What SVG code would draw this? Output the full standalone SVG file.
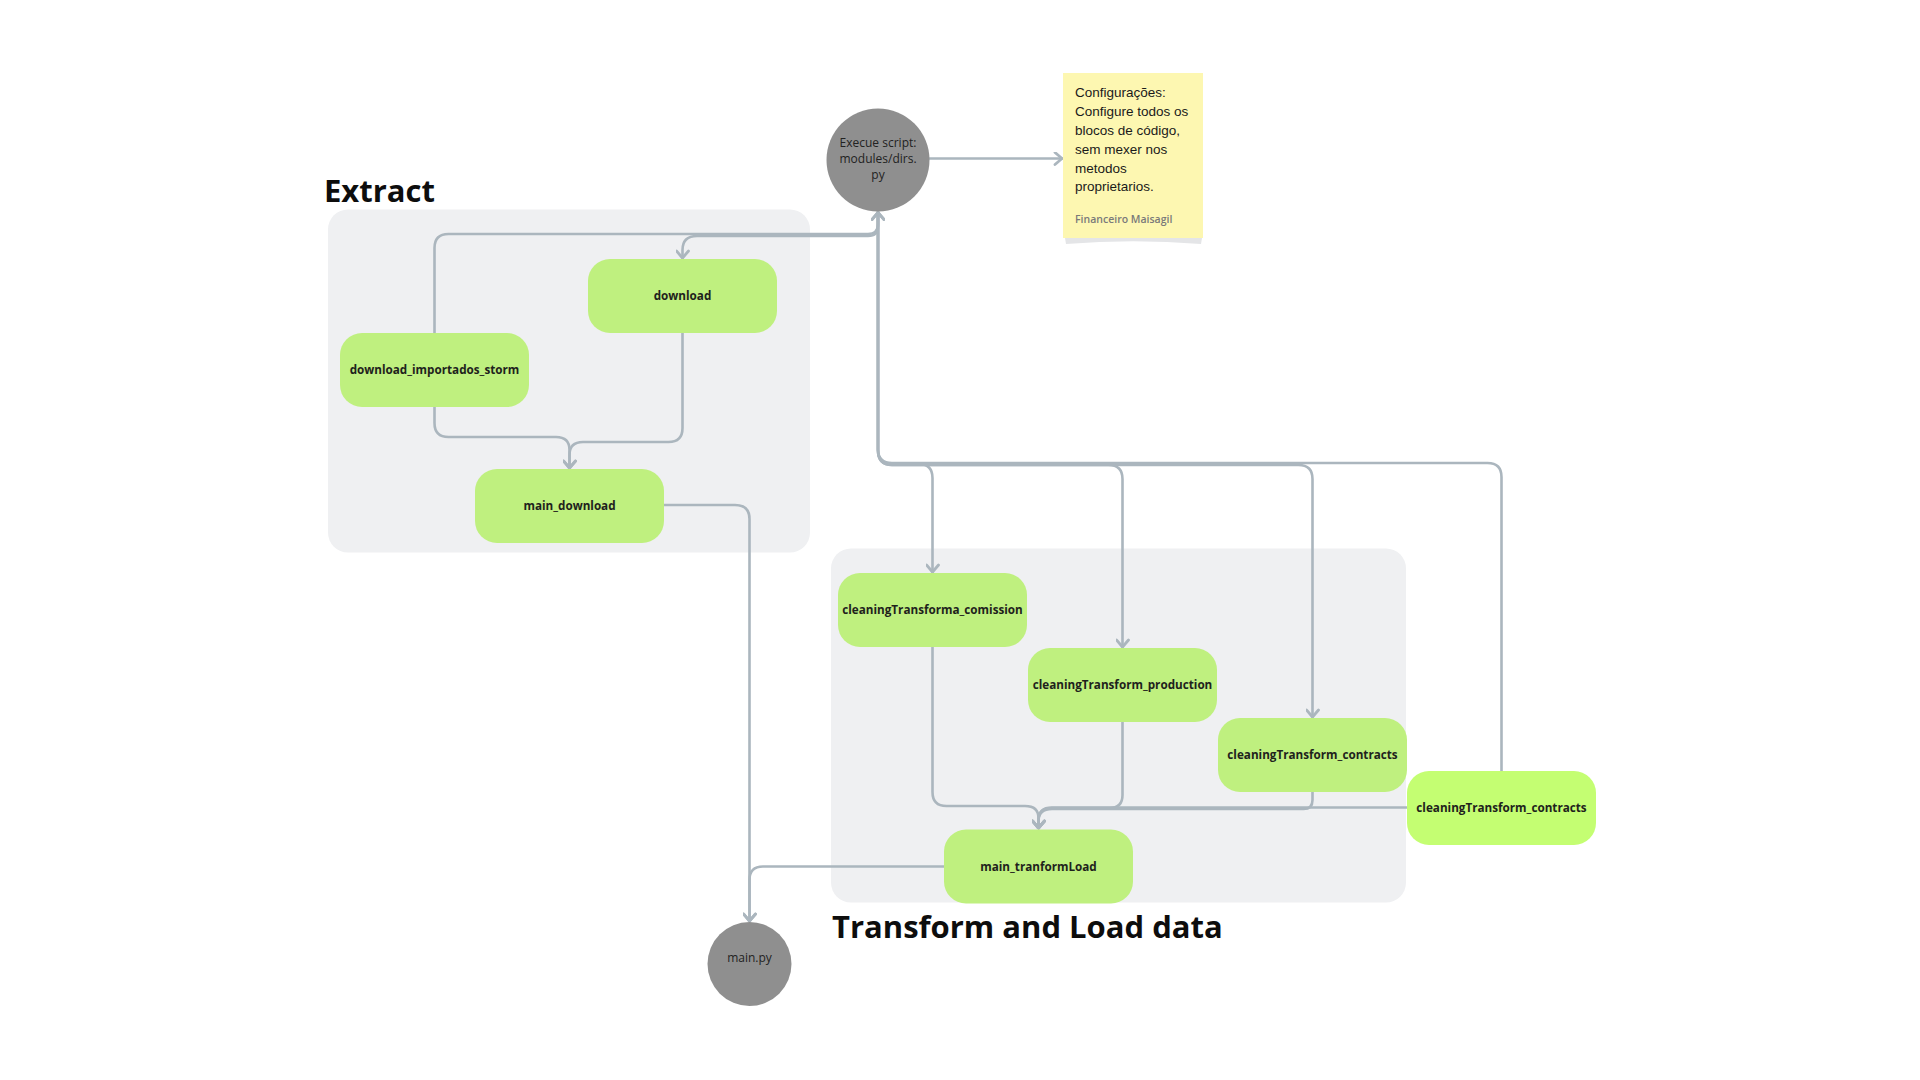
<svg xmlns="http://www.w3.org/2000/svg" width="1920" height="1080" viewBox="0 0 1920 1080">
  <defs>
    <style>
      .grp { fill: #eff0f2; }
      .node { fill: #bff07f; }
      .node-bright { fill: #c4fe72; }
      .lbl { font-family: "Open Sans", "Noto Sans", sans-serif; font-weight: 700; font-size: 11.7px; fill: #1e221c; text-anchor: middle; }
      .circ { fill: #8f8f8f; }
      .clbl { font-family: "Open Sans", "Noto Sans", sans-serif; font-weight: 400; font-size: 12px; fill: #222222; text-anchor: middle; }
      .title { font-family: "Open Sans", "Noto Sans", sans-serif; font-weight: 700; font-size: 31px; fill: #0d0d0d; }
      .edge { fill: none; stroke: #abb6be; stroke-width: 2.6; stroke-linecap: round; stroke-linejoin: round; }
      .note-txt { font-family: "Liberation Sans", Arial, sans-serif; font-size: 13.5px; fill: #1a1a1a; }
      .note-sig { font-family: "Open Sans", "Noto Sans", sans-serif; font-weight: 600; font-size: 10.5px; fill: #7a7a7a; }
    </style>
    <marker id="arr" markerWidth="14" markerHeight="14" refX="10" refY="7" orient="auto" markerUnits="userSpaceOnUse">
      <path d="M3,1 L10,7 L3,13" fill="none" stroke="#abb6be" stroke-width="2.8" stroke-linecap="round" stroke-linejoin="round"/>
    </marker>
  </defs>

  <rect width="1920" height="1080" fill="#ffffff"/>

  <!-- Groups / containers -->
  <g id="group-extract">
    <rect class="grp" x="328" y="209.5" width="482" height="343" rx="20"/>
    <text class="title" x="324" y="201.7">Extract</text>
  </g>
  <g id="group-transform">
    <rect class="grp" x="831" y="548.5" width="575" height="354" rx="20"/>
    <text class="title" x="832" y="937.7">Transform and Load data</text>
  </g>

  <!-- Connectors -->
  <g id="connectors">
    <!-- download_importados_storm -> Execue script -->
    <path class="edge" d="M434.5,333 V248 Q434.5,234 448.5,234 H868 Q878,234 878,224 V212.5" marker-end="url(#arr)"/>
    <!-- Execue script -> download -->
    <path class="edge" d="M878,212 V226 Q878,236 868,236 H697 Q682.5,236 682.5,250 V258" marker-end="url(#arr)"/>
    <!-- download -> main_download -->
    <path class="edge" d="M682.5,333 V428 Q682.5,442 668.5,442 H583 Q569.5,442 569.5,455 V468" marker-end="url(#arr)"/>
    <!-- download_importados_storm -> main_download -->
    <path class="edge" d="M434.5,407 V423 Q434.5,437 448.5,437 H556 Q569.5,437 569.5,450 V468" marker-end="url(#arr)"/>
    <!-- Execue script -> cleaningTransforma_comission -->
    <path class="edge" d="M878,212 V450 Q878,464 892,464 H918.5 Q932.5,464 932.5,478 V572" marker-end="url(#arr)"/>
    <!-- Execue script -> cleaningTransform_production -->
    <path class="edge" d="M878,212 V450 Q878,465 892,465 H1108.5 Q1122.5,465 1122.5,479 V647" marker-end="url(#arr)"/>
    <!-- Execue script -> cleaningTransform_contracts -->
    <path class="edge" d="M878,212 V450 Q878,465 892,465 H1298.5 Q1312.5,465 1312.5,479 V717" marker-end="url(#arr)"/>
    <!-- cleaningTransform_contracts (2) -> Execue script -->
    <path class="edge" d="M1501.5,771 V477 Q1501.5,463 1487.5,463 H892 Q878,463 878,449 V212.5" marker-end="url(#arr)"/>
    <!-- cleaningTransforma_comission -> main_tranformLoad -->
    <path class="edge" d="M932.5,647 V792 Q932.5,806 946.5,806 H1025 Q1038.5,806 1038.5,818 V828" marker-end="url(#arr)"/>
    <!-- cleaningTransform_production -> main_tranformLoad -->
    <path class="edge" d="M1122.5,721 V795 Q1122.5,808 1109.5,808 H1052 Q1038.5,808 1038.5,820 V828" marker-end="url(#arr)"/>
    <!-- cleaningTransform_contracts -> main_tranformLoad -->
    <path class="edge" d="M1312.5,792 V800 Q1312.5,809 1303.5,809 H1052 Q1038.5,809 1038.5,821 V828" marker-end="url(#arr)"/>
    <!-- cleaningTransform_contracts (2) -> main_tranformLoad -->
    <path class="edge" d="M1407,807.5 H1052 Q1038.5,807.5 1038.5,820 V828" marker-end="url(#arr)"/>
    <!-- main_download -> main.py -->
    <path class="edge" d="M664,505 H735 Q749.5,505 749.5,519 V921" marker-end="url(#arr)"/>
    <!-- main_tranformLoad -> main.py -->
    <path class="edge" d="M944,866.5 H763 Q749.5,866.5 749.5,880 V921" marker-end="url(#arr)"/>
    <!-- Execue script -> note -->
    <path class="edge" d="M928.5,158.5 H1062" marker-end="url(#arr)"/>
  </g>

  <!-- Nodes -->
  <g id="node-download">
    <rect class="node" x="588" y="259" width="189" height="74" rx="22"/>
    <text class="lbl" x="682.5" y="300">download</text>
  </g>
  <g id="node-download_importados_storm">
    <rect class="node" x="340" y="333" width="189" height="74" rx="22"/>
    <text class="lbl" x="434.5" y="374">download_importados_storm</text>
  </g>
  <g id="node-main_download">
    <rect class="node" x="475" y="469" width="189" height="74" rx="22"/>
    <text class="lbl" x="569.5" y="510">main_download</text>
  </g>
  <g id="node-cleaningTransforma_comission">
    <rect class="node" x="838" y="573" width="189" height="74" rx="22"/>
    <text class="lbl" x="932.5" y="614">cleaningTransforma_comission</text>
  </g>
  <g id="node-cleaningTransform_production">
    <rect class="node" x="1028" y="648" width="189" height="74" rx="22"/>
    <text class="lbl" x="1122.5" y="689">cleaningTransform_production</text>
  </g>
  <g id="node-cleaningTransform_contracts">
    <rect class="node" x="1218" y="718" width="189" height="74" rx="22"/>
    <text class="lbl" x="1312.5" y="759">cleaningTransform_contracts</text>
  </g>
  <g id="node-cleaningTransform_contracts-2">
    <rect class="node-bright" x="1407" y="771" width="189" height="74" rx="22"/>
    <text class="lbl" x="1501.5" y="812">cleaningTransform_contracts</text>
  </g>
  <g id="node-main_tranformLoad">
    <rect class="node" x="944" y="829.5" width="189" height="74" rx="22"/>
    <text class="lbl" x="1038.5" y="870.5">main_tranformLoad</text>
  </g>

  <g id="node-execue-script">
    <circle class="circ" cx="878" cy="160" r="51.5"/>
    <text class="clbl" x="878" y="146.5">Execue script:</text>
    <text class="clbl" x="878" y="162.5">modules/dirs.</text>
    <text class="clbl" x="878" y="178.5">py</text>
  </g>
  <g id="node-main-py">
    <circle class="circ" cx="749.5" cy="964" r="42"/>
    <text class="clbl" x="749.5" y="961.7">main.py</text>
  </g>

  <g id="node-note">
    <path d="M1065,238 H1202 L1201,244 Q1133,238.5 1066,244 Z" fill="#e4e5e7"/>
    <rect x="1063" y="73" width="140" height="165" fill="#fdf7b1"/>
    <text class="note-txt" x="1075" y="97.3">Configurações:</text>
    <text class="note-txt" x="1075" y="116.2">Configure todos os</text>
    <text class="note-txt" x="1075" y="135">blocos de código,</text>
    <text class="note-txt" x="1075" y="153.8">sem mexer nos</text>
    <text class="note-txt" x="1075" y="172.6">metodos</text>
    <text class="note-txt" x="1075" y="191.4">proprietarios.</text>
    <text class="note-sig" x="1075" y="222.5">Financeiro Maisagil</text>
  </g>
</svg>
